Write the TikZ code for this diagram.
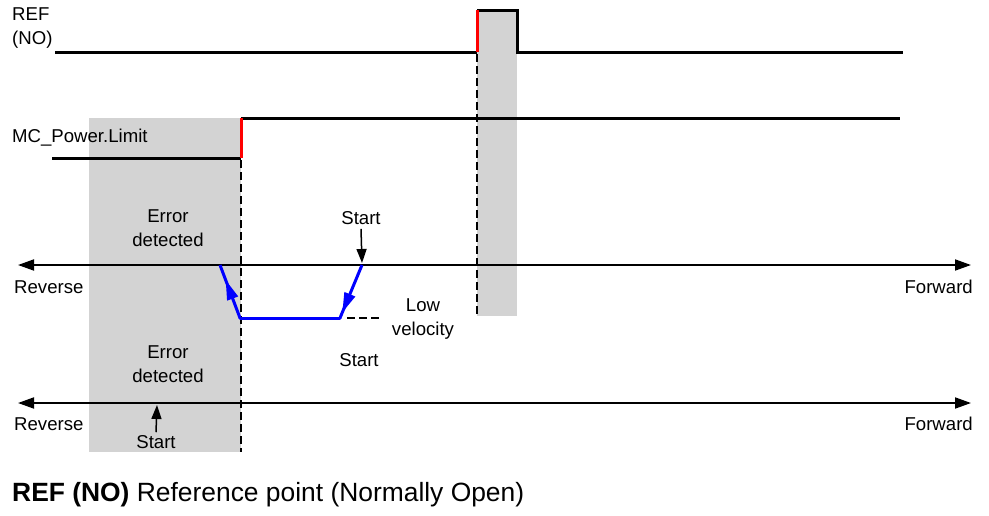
\documentclass[tikz,border=0pt]{standalone}
\usepackage{fontspec}
\setmainfont{Liberation Sans}
\usetikzlibrary{arrows.meta,decorations.markings}
\definecolor{RefGrey}{HTML}{D3D3D3}
\definecolor{RefBlue}{HTML}{0000FF}
\definecolor{RefRed}{HTML}{FF0000}
\definecolor{RefInk}{HTML}{000000}

\begin{document}
\begin{tikzpicture}[x=1pt,y=-1pt,
    every node/.style={font=\fontsize{18.6}{24}\selectfont, inner sep=0pt, align=center},
    signal/.style={RefInk, line width=3pt},
    edge/.style={RefRed, line width=3pt},
    axis/.style={RefInk, line width=1.8pt, {Triangle[length=16pt,width=11pt]}-{Triangle[length=16pt,width=11pt]}},
    marker/.style={RefInk, line width=1.5pt, -{Triangle[length=14pt,width=10pt]}},
    guide/.style={RefInk, line width=1.5pt, dash pattern=on 8pt off 4pt},
    motion/.style={RefBlue, line width=3pt},
    midarrow/.style={postaction={decorate}, decoration={markings,
      mark=at position #1 with {\arrow[RefBlue]{Triangle[length=20pt,width=11pt]}}}}]
    \useasboundingbox (0,0) rectangle (989,515);

    % shaded zones
    \fill[RefGrey] (89,118) rectangle (241,452);
    \fill[RefGrey] (477,10) rectangle (517,316);

    % REF (NO) signal
    \node[anchor=west, align=left] (reflabel) at (12,28) {REF\\(NO)};
    \draw[signal] (55,52) -- (477,52);
    \draw[signal] (477,10) -- (517,10) -- (517,52) -- (903,52);
    \draw[edge] (477,52) -- (477,10);
    \draw[guide] (477,54) -- (477,316);

    % MC_Power.Limit signal
    \node[anchor=west] (limlabel) at (12,138) {MC\_Power.Limit};
    \draw[signal] (52,158) -- (241,158);
    \draw[signal] (241,118) -- (900,118);
    \draw[edge] (241,158) -- (241,118);
    \draw[guide] (241,160) -- (241,452);

    % first move
    \coordinate (rev1) at (18,265);
    \coordinate (fwd1) at (971,265);
    \draw[axis] (rev1) -- (fwd1);
    \node[anchor=west] (revA) at (14,287) {Reverse};
    \node[anchor=east] (fwdA) at (973,287) {Forward};
    \node (errA) at (168,228) {Error\\detected};
    \node (startA) at (361,218) {Start};
    \coordinate (hitA) at (362,263);
    \draw[marker] (startA.south) ++(0,4) -- (hitA);

    \coordinate (p0) at (362,265);
    \coordinate (p1) at (340,318);
    \coordinate (p2) at (240,318);
    \coordinate (p3) at (220,265);
    \draw[motion, midarrow=0.9] (p0) -- (p1);
    \draw[motion, line cap=round] (p1) -- (p2);
    \draw[motion, midarrow=0.72] (p2) -- (p3);
    \coordinate (lowend) at (381,318);
    \draw[guide] (p1) ++(7,0) -- (lowend);
    \node (lowvel) at (423,319) {Low\\velocity};
    \node (startB) at (359,360) {Start};

    % second move
    \node (errB) at (168,364) {Error\\detected};
    \coordinate (rev2) at (18,403);
    \coordinate (fwd2) at (971,403);
    \draw[axis] (rev2) -- (fwd2);
    \node[anchor=west] (revB) at (14,424) {Reverse};
    \node[anchor=east] (fwdB) at (973,424) {Forward};
    \node (startC) at (156,442) {Start};
    \coordinate (hitC) at (157,405);
    \draw[marker] (startC.north) ++(0,-3) -- (hitC);

    % caption
    \node[anchor=west, font=\fontsize{26.4}{30}\selectfont] (caption) at (12,495)
      {\textbf{REF (NO)} Reference point (Normally Open)};
  \end{tikzpicture}
\end{document}
